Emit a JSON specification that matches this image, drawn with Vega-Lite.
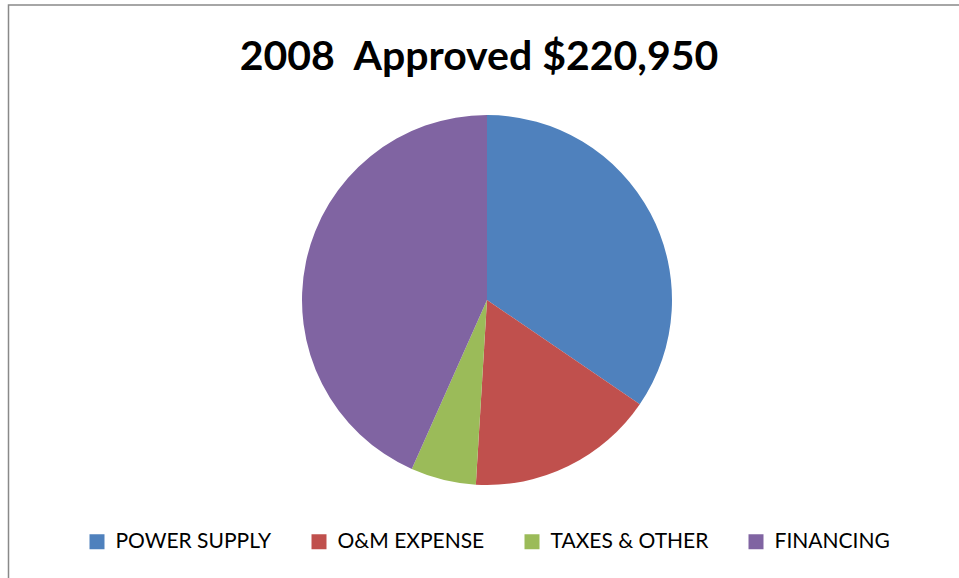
{
  "$schema": "https://vega.github.io/schema/vega-lite/v6.json",
  "autosize": {"type": "none"},
  "width": 957,
  "height": 590,
  "padding": {"left": 8.5, "top": 5, "right": 0, "bottom": 0},
  "background": "white",
  "view": {"stroke": "#898989", "strokeWidth": 1.5, "fill": "white"},
  "title": {
    "text": "2008\u00a0 Approved $220,950",
    "font": "Lato",
    "fontSize": 41,
    "fontWeight": "bold",
    "color": "#000000",
    "anchor": "middle",
    "baseline": "top",
    "offset": -74,
    "dx": -8
  },
  "data": {
    "values": [
      {"category": "POWER SUPPLY", "value": 76300, "rank": 1},
      {"category": "O&M EXPENSE", "value": 36300, "rank": 2},
      {"category": "TAXES & OTHER", "value": 12600, "rank": 3},
      {"category": "FINANCING", "value": 95750, "rank": 4}
    ]
  },
  "mark": {"type": "arc", "radius": 185},
  "encoding": {
    "theta": {"field": "value", "type": "quantitative", "stack": true},
    "order": {"field": "rank", "type": "quantitative"},
    "color": {
      "field": "category",
      "type": "nominal",
      "sort": ["POWER SUPPLY", "O&M EXPENSE", "TAXES & OTHER", "FINANCING"],
      "scale": {
        "domain": ["POWER SUPPLY", "O&M EXPENSE", "TAXES & OTHER", "FINANCING"],
        "range": ["#4F81BD", "#C0504D", "#9BBB59", "#8064A2"]
      },
      "legend": {
        "title": null,
        "orient": "none",
        "direction": "horizontal",
        "legendX": 78,
        "legendY": 526,
        "symbolType": "square",
        "symbolSize": 225,
        "symbolStrokeWidth": 0,
        "labelFont": "Lato",
        "labelFontSize": 21,
        "labelColor": "#000000",
        "labelOffset": 8,
        "columnPadding": 37,
        "labelLimit": 300
      }
    }
  }
}
